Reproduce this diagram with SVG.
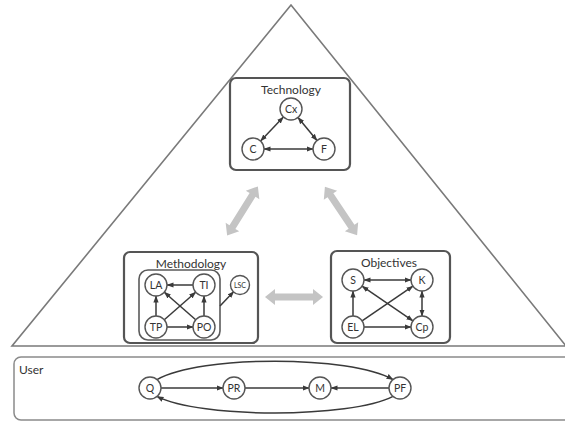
<svg xmlns="http://www.w3.org/2000/svg" xmlns:xlink="http://www.w3.org/1999/xlink" width="565" height="423" viewBox="0 0 565 423">
<style>
.box{fill:#fff;stroke:#555;stroke-width:2.2}
.inner{fill:none;stroke:#5a5a5a;stroke-width:1.6}
.nd{fill:#fff;stroke:#555;stroke-width:1.4}
.t{font-family:Lato,"Liberation Sans",sans-serif;fill:#333;text-anchor:middle}
.ttl{font-size:12px}
.lbl{font-size:10.5px}
.e{fill:none;stroke:#3a3a3a;stroke-width:1.5;marker-end:url(#ah)}
.d{marker-start:url(#ah)}
.big{fill:#c4c4c4}
</style>
<defs>
<marker id="ah" markerWidth="7" markerHeight="6" refX="6.5" refY="3" orient="auto-start-reverse" markerUnits="userSpaceOnUse">
<path d="M0,0.4 L7,3 L0,5.6 Z" fill="#3a3a3a"/>
</marker>
<path id="dbl" d="M-29,0 L-19,-8 L-19,-3.5 L19,-3.5 L19,-8 L29,0 L19,8 L19,3.5 L-19,3.5 L-19,8 Z"/>
</defs>
<polygon points="291,5 12,346 566,346" fill="none" stroke="#7a7a7a" stroke-width="1.6"/>
<g id="big-arrows" class="big">
<use xlink:href="#dbl" transform="translate(242.5,211) rotate(-58)"/>
<use xlink:href="#dbl" transform="translate(341,211) rotate(56.3)"/>
<use xlink:href="#dbl" transform="translate(294,297)"/>
</g>
<g id="technology">
<rect class="box" x="230" y="78" width="120" height="92" rx="6"/>
<text class="t ttl" x="291" y="94">Technology</text>
</g>
<g id="methodology">
<rect class="box" x="124" y="252" width="134" height="91" rx="6"/>
<rect class="inner" x="139" y="270" width="81" height="70" rx="9"/>
<text class="t ttl" x="191" y="268">Methodology</text>
</g>
<g id="objectives">
<rect class="box" x="331" y="251" width="119" height="92" rx="6"/>
<text class="t ttl" x="389" y="267">Objectives</text>
</g>
<g id="user">
<rect x="14" y="357" width="560" height="63" rx="7" fill="none" stroke="#8a8a8a" stroke-width="1.5"/>
<text class="t ttl" x="19" y="374" style="text-anchor:start">User</text>
</g>
<g id="connectors">
<line class="e d" x1="283.4" y1="117" x2="260.6" y2="141"/>
<line class="e d" x1="298" y1="117.5" x2="317" y2="140.5"/>
<line class="e d" x1="264" y1="149" x2="313" y2="149"/>
<line class="e" x1="193" y1="285" x2="167" y2="285"/>
<line class="e" x1="156" y1="316" x2="156" y2="296"/>
<line class="e" x1="204" y1="316" x2="204" y2="296"/>
<line class="e" x1="167" y1="327" x2="193" y2="327"/>
<line class="e" x1="164.3" y1="319.8" x2="195.7" y2="292.2"/>
<line class="e" x1="195.7" y1="319.8" x2="164.3" y2="292.2"/>
<line class="e" x1="220" y1="306" x2="233.8" y2="291.5"/>
<line class="e d" x1="364" y1="280" x2="411" y2="280"/>
<line class="e d" x1="422" y1="291" x2="422" y2="316"/>
<line class="e" x1="353" y1="316" x2="353" y2="291"/>
<line class="e" x1="364" y1="327" x2="411" y2="327"/>
<line class="e" x1="362.1" y1="320.8" x2="412.9" y2="286.2"/>
<line class="e d" x1="362.1" y1="286.2" x2="412.9" y2="320.8"/>
<line class="e" x1="161" y1="388" x2="223" y2="388"/>
<line class="e" x1="245" y1="388" x2="309" y2="388"/>
<line class="e" x1="389" y1="388" x2="331" y2="388"/>
<path class="e" d="M157,379.6 C200,355 350,355 393,379.6"/>
<path class="e" d="M393,396.4 C350,418.5 200,418.5 157,396.4"/>
</g>
<g id="n-Cx"><circle class="nd" cx="291" cy="109" r="11"/><text class="t lbl" x="291" y="112.5">Cx</text></g>
<g id="n-C"><circle class="nd" cx="253" cy="149" r="11"/><text class="t lbl" x="253" y="152.5">C</text></g>
<g id="n-F"><circle class="nd" cx="324" cy="149" r="11"/><text class="t lbl" x="324" y="152.5">F</text></g>
<g id="n-LA"><circle class="nd" cx="156" cy="285" r="11"/><text class="t lbl" x="156" y="288.5">LA</text></g>
<g id="n-TI"><circle class="nd" cx="204" cy="285" r="11"/><text class="t lbl" x="204" y="288.5">TI</text></g>
<g id="n-TP"><circle class="nd" cx="156" cy="327" r="11"/><text class="t lbl" x="156" y="330.5">TP</text></g>
<g id="n-PO"><circle class="nd" cx="204" cy="327" r="11"/><text class="t lbl" x="204" y="330.5">PO</text></g>
<g id="n-LSC"><circle class="nd" cx="240" cy="285" r="9.5"/><text class="t" style="font-size:7px" x="240" y="287.5">LSC</text></g>
<g id="n-S"><circle class="nd" cx="353" cy="280" r="11"/><text class="t lbl" x="353" y="283.5">S</text></g>
<g id="n-K"><circle class="nd" cx="422" cy="280" r="11"/><text class="t lbl" x="422" y="283.5">K</text></g>
<g id="n-EL"><circle class="nd" cx="353" cy="327" r="11"/><text class="t lbl" x="353" y="330.5">EL</text></g>
<g id="n-Cp"><circle class="nd" cx="422" cy="327" r="11"/><text class="t lbl" x="422" y="330.5">Cp</text></g>
<g id="n-Q"><circle class="nd" cx="150" cy="388" r="11"/><text class="t lbl" x="150" y="391.5">Q</text></g>
<g id="n-PR"><circle class="nd" cx="234" cy="388" r="11"/><text class="t lbl" x="234" y="391.5">PR</text></g>
<g id="n-M"><circle class="nd" cx="320" cy="388" r="11"/><text class="t lbl" x="320" y="391.5">M</text></g>
<g id="n-PF"><circle class="nd" cx="400" cy="388" r="11"/><text class="t lbl" x="400" y="391.5">PF</text></g>
</svg>
